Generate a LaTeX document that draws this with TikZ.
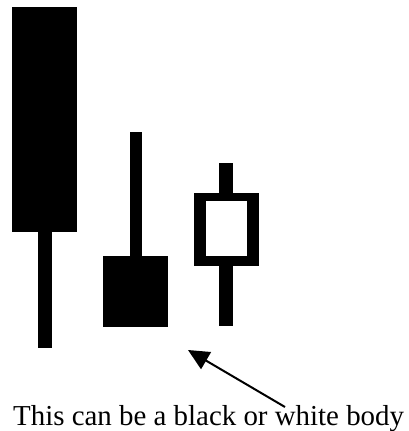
\documentclass[tikz,border=0pt]{standalone}
\usepackage{fontspec}
\setmainfont{Liberation Serif}
\usepackage{tikz}
\usetikzlibrary{arrows.meta}
\tikzstyle {solid body} = [fill=black]
\tikzstyle {wick} = [fill=black]
\tikzset{pointer/.style = {line width=2pt, -{Triangle[length=21pt,width=19.5pt]}}}

\begin{document}
\begin{tikzpicture}[x=1pt, y=-1pt]
            \useasboundingbox (0, 0) rectangle (409, 431);
            % tall black candle
            \fill[solid body] (12, 7) rectangle (77, 232);
            \fill[wick] (38, 232) rectangle (52, 348);
            % hammer-like candle
            \fill[wick] (130, 132) rectangle (142, 256);
            \fill[solid body] (103, 256) rectangle (168, 327);
            % hollow candle
            \fill[wick] (219, 163) rectangle (233, 326);
            \fill[solid body] (194, 193) rectangle (259, 266);
            \fill[white] (206, 201) rectangle (247, 256);
            \node[anchor=base west, inner sep=0pt, font=\fontsize{28.9}{32}\selectfont] (caption) at (13, 425) {This can be a black or white body};
            \coordinate (tip) at (188, 350);
            \coordinate (tail) at (285, 407);
            \draw[pointer] (tail) -- (tip);
        \end{tikzpicture}
\end{document}
